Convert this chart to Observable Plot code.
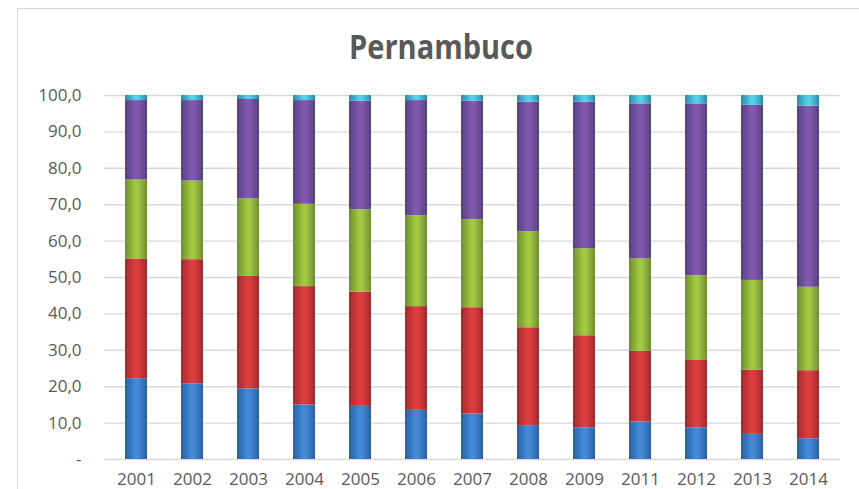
<!DOCTYPE html>
<html>
<head>
<meta charset="utf-8">
<script src="https://cdn.jsdelivr.net/npm/d3@7"></script>
<script src="https://cdn.jsdelivr.net/npm/@observablehq/plot@0.6"></script>
<style>
  html, body { margin: 0; padding: 0; background: #fff; }
  #wrap { position: relative; width: 859px; height: 489px; overflow: hidden; }
  #frame { position: absolute; left: 17px; top: 8px; width: 900px; height: 600px; border: 1.5px solid #d9d9d9; box-sizing: border-box; }
  #title { position: absolute; left: 441px; top: 29px; transform: translateX(-50%) scaleY(1.15); transform-origin: 50% 0; font-family: "Open Sans", sans-serif; font-weight: 700; font-size: 29px; color: #595959; white-space: nowrap; line-height: 1; }
  #chart { position: absolute; left: 0; top: 0; }
</style>
</head>
<body>
<div id="wrap">
  <div id="frame"></div>
  <div id="chart"></div>
  <div id="title">Pernambuco</div>
</div>
<script>
const years = ["2001","2002","2003","2004","2005","2006","2007","2008","2009","2011","2012","2013","2014"];
const seriesNames = ["Série 1","Série 2","Série 3","Série 4","Série 5"];
const serie1 = [22.2,20.8,19.4,15.0,14.6,13.5,12.5,9.3,8.7,10.3,8.7,6.9,5.7];
const serie2 = [32.9,34.1,30.9,32.5,31.4,28.5,29.2,26.9,25.3,19.4,18.5,17.7,18.7];
const serie3 = [21.7,21.6,21.3,22.6,22.6,25.0,24.2,26.4,23.9,25.4,23.3,24.6,22.9];
const serie4 = [21.8,22.1,27.3,28.5,29.8,31.6,32.5,35.6,40.3,42.6,47.2,48.1,49.8];
const serie5 = [1.4,1.4,1.1,1.4,1.6,1.4,1.6,1.8,1.8,2.3,2.3,2.7,2.9];
const yTicks = [0,10,20,30,40,50,60,70,80,90,100];

const allSeries = [serie1, serie2, serie3, serie4, serie5];
const data = [];
allSeries.forEach((vals, si) => {
  years.forEach((yr, i) => data.push({year: yr, series: seriesNames[si], value: vals[i]}));
});

// gradient stops: [edge, center]
const gradColors = [
  ["#2b5f9f", "#4289d8"],
  ["#9e2a2d", "#dc3c40"],
  ["#6e8d2e", "#a2c843"],
  ["#58407e", "#8058ae"],
  ["#2a8aa3", "#55d0e6"]
];

const fmt = d => d === 0 ? "-" : d.toFixed(1).replace(".", ",");

const svg = Plot.plot({
  width: 859,
  height: 489,
  marginLeft: 104,
  marginRight: 19,
  marginTop: 95,
  marginBottom: 30,
  style: {fontFamily: "'Open Sans', sans-serif", fontSize: "17px", color: "#595959", background: "transparent", overflow: "visible"},
  x: {domain: years, paddingInner: 0.6, paddingOuter: 0.3, label: null},
  y: {domain: [0, 100], label: null},
  color: {domain: seriesNames, range: seriesNames.map((_, i) => `url(#grad${i})`)},
  marks: [
    Plot.gridY(yTicks, {stroke: "#d9d9d9", strokeOpacity: 1, strokeWidth: 1.4}),
    Plot.barY(data, Plot.stackY({x: "year", y: "value", fill: "series", order: null})),
    Plot.axisY(yTicks, {tickSize: 0, tickPadding: 23, tickFormat: fmt, fill: "#595959", fontSize: 17}),
    Plot.axisX({tickSize: 0, tickPadding: 13, fill: "#595959", fontSize: 17})
  ]
});

const ns = "http://www.w3.org/2000/svg";
const defs = document.createElementNS(ns, "defs");
gradColors.forEach(([edge, center], i) => {
  const g = document.createElementNS(ns, "linearGradient");
  g.setAttribute("id", `grad${i}`);
  g.setAttribute("x1", "0"); g.setAttribute("x2", "1"); g.setAttribute("y1", "0"); g.setAttribute("y2", "0");
  [[0, edge], [0.45, center], [0.6, center], [1, edge]].forEach(([o, c]) => {
    const s = document.createElementNS(ns, "stop");
    s.setAttribute("offset", o);
    s.setAttribute("stop-color", c);
    g.appendChild(s);
  });
  defs.appendChild(g);
});
svg.insertBefore(defs, svg.firstChild);
document.getElementById("chart").appendChild(svg);
</script>
</body>
</html>
